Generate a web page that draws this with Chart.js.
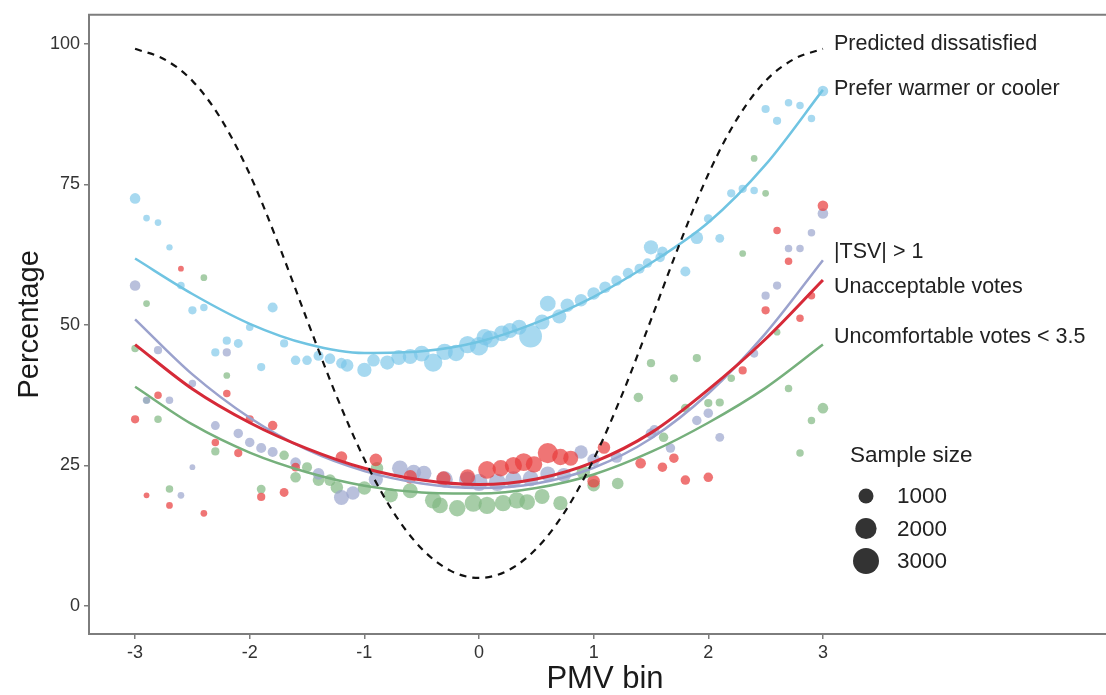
<!DOCTYPE html>
<html lang="en">
<head>
<meta charset="utf-8">
<title>PMV bin vs percentage</title>
<script src="https://cdn.jsdelivr.net/npm/chart.js@4.4.1/dist/chart.umd.min.js"></script>
<style>
  body { margin: 0; background: #fff; }
  #wrap { width: 1106px; height: 695px; }
</style>
</head>
<body>
<div id="wrap"><canvas id="c"></canvas></div>
<script>
// series names as labelled at the right edge
const seriesNames = ['Predicted dissatisfied', 'Prefer warmer or cooler', '|TSV| > 1', 'Unacceptable votes', 'Uncomfortable votes < 3.5'];

const xTicks = [-3, -2, -1, 0, 1, 2, 3];
const yTicks = [0, 25, 50, 75, 100];
const sizeLegend = [1000, 2000, 3000];

// predicted dissatisfied (dashed curve)
const ppdX = [-3, -2.75, -2.5, -2.25, -2, -1.75, -1.5, -1.25, -1, -0.75, -0.5, -0.25, 0, 0.25, 0.5, 0.75, 1, 1.25, 1.5, 1.75, 2, 2.25, 2.5, 2.75, 3];
const ppdY = [99.1, 97.3, 93.4, 86.6, 76.8, 64.4, 50.9, 37.7, 26.1, 16.8, 10.2, 6.3, 5.0, 6.3, 10.2, 16.8, 26.1, 37.7, 50.9, 64.4, 76.8, 86.6, 93.4, 97.3, 99.1];

// fitted curves
const fitX = [-3, -2.5, -2, -1.5, -1, -0.5, 0, 0.5, 1, 1.5, 2, 2.5, 3];
const preferFit = [61.8, 55.5, 50.2, 46.6, 45.0, 45.3, 47.0, 50.4, 55.0, 61.0, 68.2, 78.5, 91.8];
const tsvFit = [51.0, 41.2, 33.5, 27.8, 24.0, 21.8, 21.0, 21.8, 24.6, 29.8, 37.8, 48.5, 61.5];
const unaccFit = [46.5, 38.6, 32.6, 28.0, 24.5, 22.4, 21.6, 22.6, 25.6, 30.8, 38.5, 47.5, 58.0];
const uncomfFit = [39.0, 32.3, 27.3, 23.8, 21.4, 20.2, 20.0, 21.0, 23.4, 27.4, 32.6, 38.8, 46.5];

// binned observations: pmv, percentage, sample size
const preferX = [-3.0, -2.9, -2.8, -2.7, -2.6, -2.5, -2.4, -2.3, -2.2, -2.1, -2.0, -1.9, -1.8, -1.7, -1.6, -1.5, -1.4, -1.3, -1.2, -1.15, -1.0, -0.92, -0.8, -0.7, -0.6, -0.5, -0.4, -0.3, -0.2, -0.1, 0.0, 0.05, 0.1, 0.2, 0.27, 0.35, 0.45, 0.55, 0.6, 0.7, 0.77, 0.89, 1.0, 1.1, 1.2, 1.3, 1.4, 1.47, 1.5, 1.58, 1.6, 1.8, 1.9, 2.0, 2.1, 2.2, 2.3, 2.4, 2.5, 2.6, 2.7, 2.8, 2.9, 3.0];
const preferY = [72.5, 69.0, 68.2, 63.8, 57.0, 52.6, 53.1, 45.1, 47.2, 46.7, 49.6, 42.5, 53.1, 46.7, 43.7, 43.7, 44.5, 44.0, 43.2, 42.8, 42.0, 43.7, 43.3, 44.2, 44.4, 44.9, 43.3, 45.2, 45.0, 46.5, 46.2, 47.8, 47.5, 48.5, 49.0, 49.6, 48.0, 50.5, 53.8, 51.5, 53.5, 54.4, 55.6, 56.7, 57.9, 59.2, 60.0, 61.0, 63.8, 62.0, 63.0, 59.5, 65.5, 68.9, 65.4, 73.4, 74.2, 73.9, 88.4, 86.3, 89.5, 89.0, 86.7, 91.6];
const preferN = [500, 200, 200, 180, 250, 300, 250, 300, 300, 350, 250, 300, 450, 300, 400, 400, 450, 500, 500, 700, 900, 700, 900, 1000, 1000, 1100, 1500, 1200, 1200, 1300, 1500, 1200, 1300, 1100, 1000, 1000, 2300, 1000, 1100, 900, 800, 700, 700, 600, 500, 500, 450, 400, 900, 400, 500, 450, 700, 350, 350, 300, 300, 250, 300, 300, 250, 250, 250, 500];

const tsvX = [-3.0, -2.9, -2.8, -2.7, -2.6, -2.5, -2.5, -2.3, -2.2, -2.1, -2.0, -1.9, -1.8, -1.6, -1.4, -1.2, -1.1, -0.9, -0.69, -0.57, -0.48, -0.3, -0.1, 0.0, 0.16, 0.3, 0.45, 0.6, 0.74, 0.89, 1.0, 1.2, 1.5, 1.53, 1.67, 1.9, 2.0, 2.1, 2.4, 2.5, 2.6, 2.7, 2.8, 2.9, 3.0];
const tsvY = [57.0, 36.6, 45.5, 36.6, 19.7, 39.6, 24.7, 32.1, 45.1, 30.7, 29.1, 28.1, 27.4, 25.5, 23.5, 19.3, 20.1, 22.5, 24.5, 23.8, 23.6, 22.5, 22.4, 22.0, 22.0, 22.5, 22.7, 23.5, 23.3, 27.4, 26.0, 26.5, 30.7, 31.3, 28.1, 33.0, 34.3, 30.0, 44.9, 55.2, 57.0, 63.6, 63.6, 66.4, 69.8];
const tsvN = [500, 250, 300, 250, 200, 250, 150, 350, 300, 400, 400, 450, 450, 500, 600, 1000, 800, 900, 1100, 1000, 1000, 1200, 1300, 1300, 1300, 1200, 1100, 1000, 900, 800, 700, 600, 500, 450, 400, 400, 400, 350, 300, 300, 300, 250, 250, 250, 500];

const unaccX = [-3.0, -2.9, -2.8, -2.7, -2.6, -2.4, -2.3, -2.2, -2.1, -2.0, -1.9, -1.8, -1.7, -1.6, -1.2, -0.9, -0.6, -0.31, -0.1, 0.07, 0.19, 0.3, 0.39, 0.48, 0.6, 0.71, 0.8, 1.0, 1.09, 1.41, 1.6, 1.7, 1.8, 2.0, 2.3, 2.5, 2.6, 2.7, 2.8, 2.9, 3.0];
const unaccY = [33.2, 19.7, 37.5, 17.9, 60.0, 16.5, 29.1, 37.8, 27.2, 33.2, 19.4, 32.1, 20.2, 24.7, 26.5, 26.0, 23.0, 22.7, 23.0, 24.2, 24.5, 25.0, 25.6, 25.2, 27.2, 26.5, 26.3, 22.2, 28.2, 25.4, 24.7, 26.3, 22.4, 22.9, 41.9, 52.6, 66.8, 61.3, 51.2, 55.2, 71.2];
const unaccN = [300, 150, 250, 200, 150, 200, 250, 250, 300, 300, 300, 400, 350, 350, 600, 700, 800, 900, 1000, 1400, 1200, 1300, 1400, 1200, 1800, 1200, 1000, 700, 700, 500, 400, 400, 400, 400, 300, 300, 250, 250, 250, 250, 500];

const uncomfX = [-3.0, -2.9, -2.9, -2.8, -2.7, -2.4, -2.3, -2.2, -1.9, -1.7, -1.6, -1.5, -1.4, -1.3, -1.24, -1.0, -0.89, -0.77, -0.6, -0.4, -0.34, -0.19, -0.05, 0.07, 0.21, 0.33, 0.42, 0.55, 0.71, 0.91, 1.0, 1.21, 1.39, 1.5, 1.61, 1.7, 1.8, 1.9, 2.0, 2.1, 2.2, 2.3, 2.4, 2.5, 2.6, 2.7, 2.8, 2.9, 3.0];
const uncomfY = [45.8, 53.8, 36.6, 33.2, 20.8, 58.4, 27.5, 41.0, 20.8, 26.8, 22.9, 24.7, 22.4, 22.4, 21.1, 21.0, 24.5, 19.7, 20.5, 18.8, 17.9, 17.4, 18.3, 17.9, 18.3, 18.8, 18.5, 19.5, 18.3, 23.8, 21.5, 21.8, 37.1, 43.2, 30.0, 40.5, 35.2, 44.1, 36.1, 36.2, 40.5, 62.7, 79.6, 73.4, 48.7, 38.7, 27.2, 33.0, 35.2];
const uncomfN = [250, 200, 200, 250, 250, 200, 300, 200, 350, 400, 500, 450, 600, 600, 700, 800, 700, 900, 1000, 1200, 1100, 1200, 1300, 1300, 1200, 1200, 1100, 1000, 900, 800, 700, 600, 400, 300, 400, 300, 350, 300, 300, 300, 250, 200, 200, 200, 200, 250, 250, 250, 500];

const font = '"Liberation Sans", Arial, sans-serif';
const sizeToRadius = n => 7.5 * Math.sqrt(n / 1000);
const pts = (xs, ys) => xs.map((v, i) => ({ x: v, y: ys[i] }));

function scatterSet(xs, ys, ns, color, order) {
    return {
        type: 'scatter',
        data: pts(xs, ys),
        backgroundColor: color,
        borderWidth: 0,
        pointRadius: ctx => sizeToRadius(ns[ctx.dataIndex]),
        pointHoverRadius: ctx => sizeToRadius(ns[ctx.dataIndex]),
        order: order
    };
}

function fitSet(ys, color, width, order) {
    return {
        type: 'line',
        data: pts(fitX, ys),
        borderColor: color,
        borderWidth: width,
        pointRadius: 0,
        fill: false,
        cubicInterpolationMode: 'monotone',
        order: order
    };
}

// label anchors (pmv 3, value) for the right-hand names
const nameAnchors = [100, 92, 62.9, 56.8, 47.8];

const overlay = {
    id: 'overlay',
    afterDraw(chart) {
        const { ctx, chartArea: a, scales: { x, y } } = chart;
        ctx.save();
        ctx.strokeStyle = '#7d7d7d';
        ctx.lineWidth = 2;
        ctx.beginPath();
        ctx.moveTo(a.left - 1, a.top);
        ctx.lineTo(chart.width, a.top);
        ctx.moveTo(a.right - 2, a.bottom);
        ctx.lineTo(chart.width, a.bottom);
        ctx.stroke();

        ctx.fillStyle = '#222';
        ctx.textBaseline = 'middle';
        ctx.textAlign = 'left';
        ctx.font = '21.5px ' + font;
        seriesNames.forEach((name, i) => {
            ctx.fillText(name, x.getPixelForValue(3) + 11, y.getPixelForValue(nameAnchors[i]));
        });

        // sample size key
        ctx.font = '22.5px ' + font;
        ctx.fillText('Sample size', 850, 456);
        sizeLegend.forEach((n, i) => {
            const cy = 496 + i * 32.5;
            ctx.fillStyle = '#333';
            ctx.beginPath();
            ctx.arc(866, cy, sizeToRadius(n), 0, Math.PI * 2);
            ctx.fill();
            ctx.fillStyle = '#222';
            ctx.fillText(String(n), 897, cy + 1);
        });

        // axis titles
        ctx.fillStyle = '#1a1a1a';
        ctx.font = '31px ' + font;
        ctx.textAlign = 'center';
        ctx.fillText('PMV bin', 605, 679);
        ctx.font = '29px ' + font;
        ctx.translate(30, (a.top + a.bottom) / 2);
        ctx.rotate(-Math.PI / 2);
        ctx.fillText('Percentage', 0, 0);
        ctx.restore();
    }
};

new Chart(document.getElementById('c'), {
    type: 'scatter',
    data: {
        datasets: [
            {
                type: 'line',
                data: pts(ppdX, ppdY),
                borderColor: '#111',
                borderWidth: 2.2,
                borderDash: [7, 6],
                pointRadius: 0,
                fill: false,
                cubicInterpolationMode: 'monotone',
                order: 0
            },
            fitSet(unaccFit, 'rgb(214, 42, 56)', 3, 1),
            fitSet(tsvFit, 'rgb(155, 162, 205)', 2.5, 2),
            fitSet(preferFit, 'rgb(112, 196, 226)', 2.5, 3),
            fitSet(uncomfFit, 'rgb(118, 176, 124)', 2.5, 4),
            scatterSet(unaccX, unaccY, unaccN, 'rgba(232, 58, 58, 0.7)', 5),
            scatterSet(tsvX, tsvY, tsvN, 'rgba(155, 165, 205, 0.7)', 6),
            scatterSet(uncomfX, uncomfY, uncomfN, 'rgba(128, 184, 130, 0.7)', 7),
            scatterSet(preferX, preferY, preferN, 'rgba(120, 196, 232, 0.65)', 8)
        ]
    },
    options: {
        responsive: true,
        maintainAspectRatio: false,
        animation: false,
        layout: { padding: { top: 14, right: 0, bottom: 0, left: 0 } },
        plugins: { legend: { display: false }, tooltip: { enabled: false } },
        scales: {
            x: {
                type: 'linear',
                min: -3.402,
                max: 5.37,
                afterBuildTicks: s => { s.ticks = xTicks.map(v => ({ value: v })); },
                afterFit: s => { s.height = 61; },
                grid: { drawOnChartArea: false, drawTicks: true, tickLength: 5, color: '#7d7d7d', lineWidth: 1.5 },
                border: { display: true, color: '#7d7d7d', width: 2 },
                ticks: { color: '#333', font: { family: font, size: 18 }, padding: 3, maxRotation: 0 }
            },
            y: {
                type: 'linear',
                min: -4.97,
                max: 105.15,
                afterBuildTicks: s => { s.ticks = yTicks.map(v => ({ value: v })); },
                afterFit: s => { s.width = 89; },
                grid: { drawOnChartArea: false, drawTicks: true, tickLength: 5, color: '#7d7d7d', lineWidth: 1.5 },
                border: { display: true, color: '#7d7d7d', width: 2 },
                ticks: { color: '#333', font: { family: font, size: 18 }, padding: 4 }
            }
        }
    },
    plugins: [overlay]
});
</script>
</body>
</html>
